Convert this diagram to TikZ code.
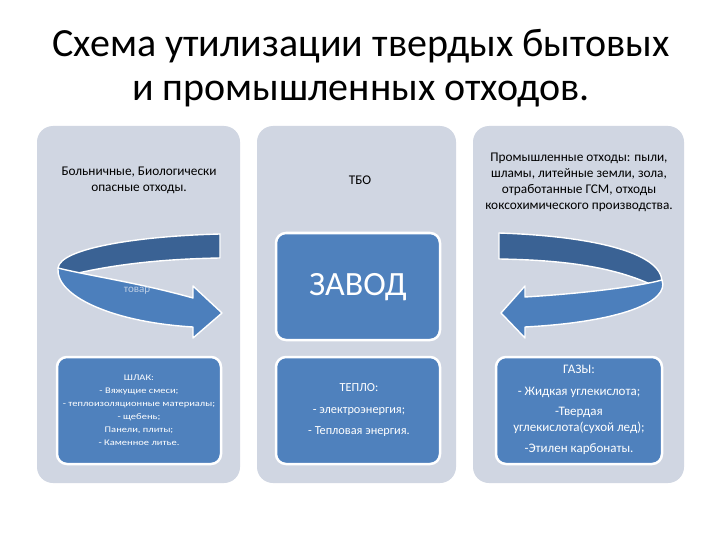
\documentclass[tikz,border=0pt]{standalone}
\usepackage{fontspec}
\usepackage{graphicx}
\setmainfont{Carlito}
\definecolor{colbg}{RGB}{208,214,226}
\definecolor{boxbl}{RGB}{79,129,189}
\definecolor{arrdark}{RGB}{58,98,148}
\definecolor{arrlight}{RGB}{76,127,188}
\definecolor{tovar}{RGB}{190,206,228}
\tikzset{
  column/.style={fill=colbg, draw=none, rounded corners=16pt},
  bluebox/.style={fill=boxbl, draw=white, line width=2.5pt, rounded corners=10pt},
  band/.style={draw=white, line width=1.4pt, line join=round},
  toptext/.style={align=center, font=\fontsize{13.3}{16}\selectfont, text=black},
  wtext/.style={align=center, text=white},
}
\begin{document}
\begin{tikzpicture}[x=1pt,y=-1pt]
\useasboundingbox (0,0) rectangle (720,540);
\fill[white] (0,0) rectangle (720,540);
% title
\node[font=\fontsize{40}{48}\selectfont] (t1) at (361,46) {Схема утилизации твердых бытовых};
\node[font=\fontsize{40}{48}\selectfont] (t2) at (361,94) {и промышленных отходов.};
% columns
\path[column] (37,126) rectangle (240,483);
\path[column] (257,126) rectangle (456,483);
\path[column] (473,126) rectangle (684,483);
% top texts
\node[toptext] (c1) at (139,180) {Больничные, Биологически\\опасные отходы.};
\node[toptext] (c2) at (360,180) {ТБО};
\node[toptext] (c3) at (579,182) {Промышленные отходы: пыли,\\шламы, литейные земли, зола,\\отработанные ГСМ, отходы\\коксохимического производства.};
% left curved arrow
\path[band, fill=arrdark] (220,234) .. controls (140,236) and (60,248) .. (58,268)
  -- (70,275) .. controls (110,265) and (160,259) .. (220,258) -- cycle;
\path[band, fill=arrlight] (193,298) .. controls (140,283) and (90,276) .. (58,268)
  .. controls (55,295) and (110,322) .. (193,327) -- (193,338) -- (222,313) -- (193,286) -- cycle;
\node[font=\fontsize{11}{13}\selectfont, text=tovar] (tv) at (137,291) {товар};
% right curved arrow
\path[band, fill=arrdark] (499,233) .. controls (590,236) and (662,252) .. (662,282)
  -- (650,284) .. controls (610,266) and (560,260) .. (499,259) -- cycle;
\path[band, fill=arrlight] (525,297) .. controls (590,293) and (640,286) .. (662,280)
  .. controls (670,302) and (620,322) .. (525,327) -- (525,338) -- (501,313) -- (525,286) -- cycle;
% blue boxes
\path[bluebox] (57,357) rectangle (221,464);
\path[bluebox] (276,233) rectangle (440,340);
\path[bluebox] (276,357) rectangle (440,464);
\path[bluebox] (496,357) rectangle (662,464);
% box texts
\node[wtext, font=\fontsize{34}{40}\selectfont] (zavod) at (358,287) {ЗАВОД};
\node[wtext] (shlak) at (139,410) {\scalebox{1.22}[1]{\fontsize{8.6}{13}\selectfont\begin{tabular}{@{}c@{}}ШЛАК:\\- Вяжущие смеси;\\- теплоизоляционные материалы;\\- щебень;\\Панели, плиты;\\- Каменное литье.\end{tabular}}};
\node[wtext, font=\fontsize{12.3}{21.5}\selectfont] (teplo) at (359,410) {ТЕПЛО:\\- электроэнергия;\\- Тепловая энергия.};
\node[wtext, font=\fontsize{13}{15.5}\selectfont] (gazy) at (579,410) {ГАЗЫ:\\[6pt]- Жидкая углекислота;\\[5pt]-Твердая\\углекислота(сухой лед);\\[6pt]-Этилен карбонаты.};
\end{tikzpicture}
\end{document}
